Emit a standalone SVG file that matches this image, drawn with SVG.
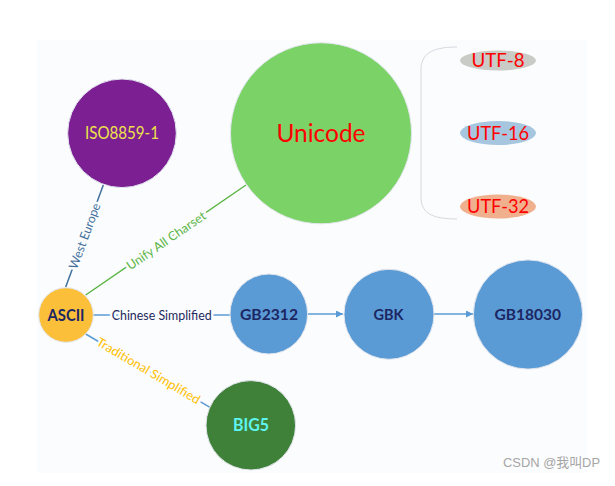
<svg xmlns="http://www.w3.org/2000/svg" width="615" height="486" viewBox="0 0 615 486">
<defs>
<marker id="arr" viewBox="0 0 10 10" refX="10" refY="5" markerWidth="9" markerHeight="7" markerUnits="userSpaceOnUse" orient="auto"><path d="M0,0 L10,5 L0,10 z" fill="#5b9bd5"/></marker>
</defs>
<style>
.node{stroke:#e2e6ee;stroke-width:1}
.nt{font-family:Lato,"Liberation Sans",Arial,sans-serif;text-anchor:middle}
.bold{font-weight:bold;fill:#1b2663}
.el{font-family:Lato,"Liberation Sans",Arial,sans-serif;font-size:12.5px;text-anchor:middle;dominant-baseline:central;paint-order:stroke;stroke:#fbfcfd;stroke-width:5px;stroke-linejoin:round}
.utf{font-family:Lato,"Liberation Sans",Arial,sans-serif;font-size:19px;fill:#ff0000;text-anchor:middle}
</style>
<rect x="0" y="0" width="615" height="486" fill="#ffffff"/>
<rect x="37" y="40" width="550" height="433" fill="#fbfcfd"/>

<g id="connectors" fill="none">
<line x1="65.7" y1="287" x2="103.3" y2="185" stroke="#41709c" stroke-width="1.5"/>
<line x1="85.7" y1="295" x2="246" y2="185" stroke="#5cb648" stroke-width="1.5"/>
<line x1="93" y1="315" x2="230" y2="315" stroke="#5b9bd5" stroke-width="1.5"/>
<line x1="85.7" y1="334" x2="210" y2="407.3" stroke="#5b9bd5" stroke-width="1.5"/>
<line x1="308" y1="314" x2="343" y2="314" stroke="#5b9bd5" stroke-width="1.5" marker-end="url(#arr)"/>
<line x1="434" y1="314" x2="473" y2="314" stroke="#5b9bd5" stroke-width="1.5" marker-end="url(#arr)"/>
<path d="M457,47 C430,47 421,55 421,70 L421,197 C421,212 430,219 457,219" stroke="#d5d9e0" stroke-width="1"/>
<text class="el" fill="#41709c" transform="translate(84.5,236) rotate(-69.8)" textLength="69" lengthAdjust="spacingAndGlyphs">West Europe</text>
<text class="el" fill="#5cb648" transform="translate(166,240.5) rotate(-34.5)" textLength="93" lengthAdjust="spacingAndGlyphs">Unify All Charset</text>
<text class="el" fill="#1f2a60" x="161.7" y="315" textLength="100" lengthAdjust="spacingAndGlyphs">Chinese Simplified</text>
<text class="el" fill="#ffc000" transform="translate(148.5,370.5) rotate(30.5)" textLength="118" lengthAdjust="spacingAndGlyphs">Traditional Simplified</text>
</g>

<g id="iso8859-1">
<circle class="node" cx="122" cy="133.3" r="54.3" fill="#7b1f93"/>
<text class="nt" x="122" y="139" font-size="17" fill="#eee24a" textLength="74" lengthAdjust="spacingAndGlyphs">ISO8859-1</text>
</g>
<g id="unicode">
<circle class="node" cx="321" cy="133.3" r="90.5" fill="#7bd266"/>
<text class="nt" x="321" y="141.5" font-size="25" fill="#ff0000" textLength="89" lengthAdjust="spacingAndGlyphs">Unicode</text>
</g>
<g id="utf-8">
<ellipse cx="498" cy="60.5" rx="38" ry="10" fill="#c9cbc6"/>
<text class="utf" x="498" y="67" textLength="53" lengthAdjust="spacingAndGlyphs">UTF-8</text>
</g>
<g id="utf-16">
<ellipse cx="498" cy="133" rx="38" ry="12" fill="#a6c6df"/>
<text class="utf" x="498" y="139.5" textLength="62" lengthAdjust="spacingAndGlyphs">UTF-16</text>
</g>
<g id="utf-32">
<ellipse cx="498" cy="206.5" rx="38" ry="12" fill="#f0b08e"/>
<text class="utf" x="498" y="213" textLength="62" lengthAdjust="spacingAndGlyphs">UTF-32</text>
</g>
<g id="ascii">
<circle class="node" cx="66" cy="315" r="27.3" fill="#fcbf3a"/>
<text class="nt bold" x="66" y="320.8" font-size="17" textLength="37" lengthAdjust="spacingAndGlyphs">ASCII</text>
</g>
<g id="gb2312">
<ellipse class="node" cx="268.8" cy="314" rx="38.8" ry="40" fill="#5b9bd5"/>
<text class="nt bold" x="269" y="320" font-size="15.5" textLength="58" lengthAdjust="spacingAndGlyphs">GB2312</text>
</g>
<g id="gbk">
<circle class="node" cx="389" cy="314.3" r="45" fill="#5b9bd5"/>
<text class="nt bold" x="388.5" y="320" font-size="15.5" textLength="30" lengthAdjust="spacingAndGlyphs">GBK</text>
</g>
<g id="gb18030">
<circle class="node" cx="528" cy="314.5" r="54.6" fill="#5b9bd5"/>
<text class="nt bold" x="527.7" y="320" font-size="15.5" textLength="66.5" lengthAdjust="spacingAndGlyphs">GB18030</text>
</g>
<g id="big5">
<ellipse class="node" cx="250.8" cy="425.3" rx="44.8" ry="44.7" fill="#40813a"/>
<text class="nt" x="251" y="431" font-size="16.5" font-weight="bold" fill="#5ff5f0" textLength="36" lengthAdjust="spacingAndGlyphs">BIG5</text>
</g>
<text x="503" y="466.5" font-family="'Liberation Sans','Noto Sans CJK SC',sans-serif" font-size="13" fill="#a6a6a6" textLength="97" lengthAdjust="spacingAndGlyphs">CSDN @我叫DP</text>
</svg>
